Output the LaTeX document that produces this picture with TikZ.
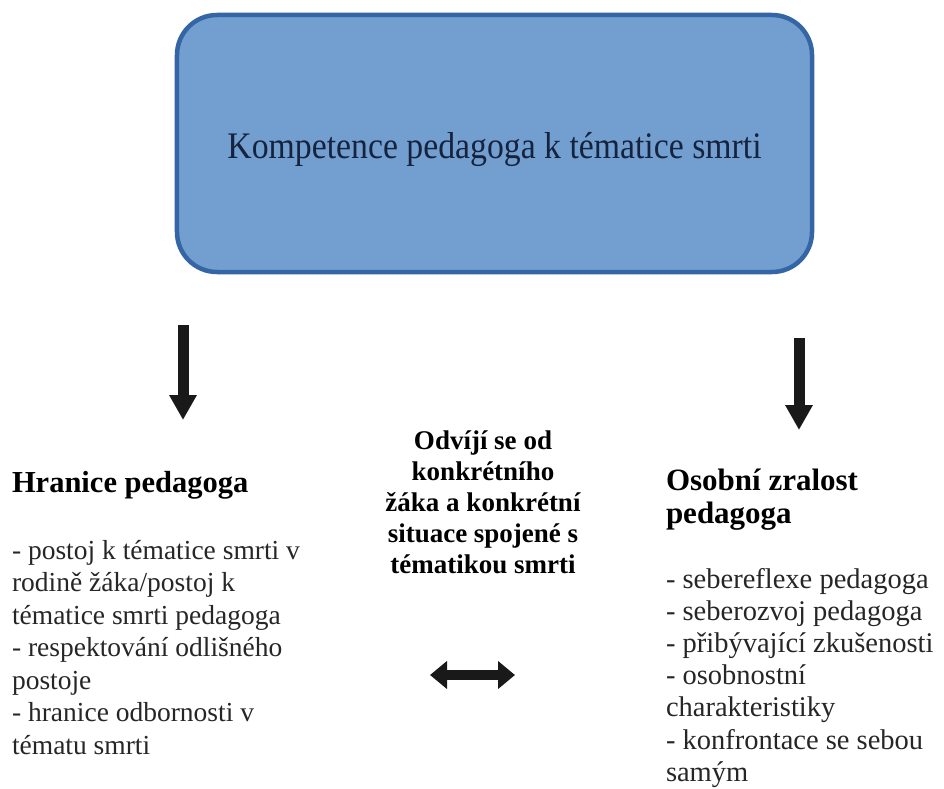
\documentclass[tikz,border=0pt]{standalone}
\usepackage{fontspec}
\setmainfont{Liberation Serif}
\newfontfamily\titlefont[FakeStretch=0.9]{Liberation Serif}
\usetikzlibrary{arrows.meta}
\definecolor{boxfill}{HTML}{729FCF}
\definecolor{boxline}{HTML}{3465A4}
\definecolor{titlecol}{HTML}{16233F}
\definecolor{bodycol}{HTML}{262626}
\tikzset{
  mainbox/.style={draw=boxline, line width=4.5bp, fill=boxfill, rounded corners=40bp,
    minimum width=635bp, minimum height=257bp, inner sep=0pt, text=titlecol},
  txt/.style={inner sep=0pt, outer sep=0pt},
  downarrow/.style={line width=11bp, draw=black!90, -{Triangle[width=26bp,length=25bp]}},
  bothway/.style={line width=10bp, draw=black!90, {Triangle[width=27bp,length=17bp]}-{Triangle[width=27bp,length=17bp]}}
}
\begin{document}
\begin{tikzpicture}[x=1bp,y=-1bp]
\useasboundingbox (0,0) rectangle (944,789);

\node[mainbox] (comp) at (494.5,143.5) {\raisebox{-14.5bp}[0pt][0pt]{\titlefont\fontsize{37.5bp}{40bp}\selectfont Kompetence pedagoga k tématice smrti}};

\coordinate (la1) at (183,325);
\coordinate (la2) at (183,420);
\draw[downarrow] (la1) -- (la2);

\coordinate (ra1) at (799,338);
\coordinate (ra2) at (799,430);
\draw[downarrow] (ra1) -- (ra2);

\node[txt, anchor=base west] (lhead) at (12,492) {\bfseries\fontsize{30.5bp}{33bp}\selectfont Hranice pedagoga};

\node[txt, anchor=base west, text=bodycol] (lbody) at (12,559) {\fontsize{27.5bp}{32.5bp}\selectfont
\begin{tabular}[t]{@{}l@{}}
- postoj k tématice smrti v\\
rodině žáka/postoj k\\
tématice smrti pedagoga\\
- respektování odlišného\\
postoje\\
- hranice odbornosti v\\
tématu smrti
\end{tabular}};

\node[txt, anchor=base] (mid) at (483,449) {\bfseries\fontsize{27bp}{31bp}\selectfont
\begin{tabular}[t]{@{}c@{}}
Odvíjí se od\\
konkrétního\\
žáka a konkrétní\\
situace spojené s\\
tématikou smrti
\end{tabular}};

\coordinate (da1) at (430,675);
\coordinate (da2) at (515,675);
\draw[bothway] (da1) -- (da2);

\node[txt, anchor=base west] (rhead) at (666,490) {\bfseries\fontsize{31bp}{33bp}\selectfont
\begin{tabular}[t]{@{}l@{}}
Osobní zralost\\
pedagoga
\end{tabular}};

\node[txt, anchor=base west, text=bodycol] (rbody) at (666,588) {\fontsize{28.5bp}{32.2bp}\selectfont
\begin{tabular}[t]{@{}l@{}}
- sebereflexe pedagoga\\
- seberozvoj pedagoga\\
- přibývající zkušenosti\\
- osobnostní\\
charakteristiky\\
- konfrontace se sebou\\
samým
\end{tabular}};
\end{tikzpicture}
\end{document}
